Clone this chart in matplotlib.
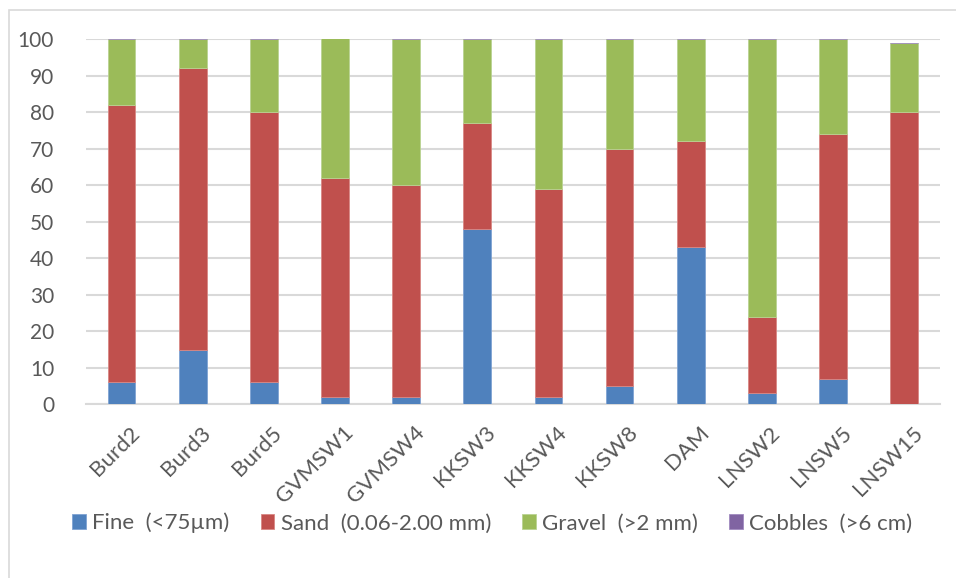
import numpy as np
import matplotlib
matplotlib.use("Agg")
import matplotlib.pyplot as plt
import matplotlib.transforms as mtransforms
from matplotlib.patches import Rectangle

plt.rcParams['font.family'] = ['Lato', 'DejaVu Sans']

# ==============================================================================
# DATA (percent by weight)
# ==============================================================================

sites   = ["Burd2", "Burd3", "Burd5", "GVMSW1", "GVMSW4", "KKSW3",
           "KKSW4", "KKSW8", "DAM", "LNSW2", "LNSW5", "LNSW15"]
fine    = [6, 15, 6, 2, 2, 48, 2, 5, 43, 3, 7, 0]
sand    = [76, 77, 74, 60, 58, 29, 57, 65, 29, 21, 67, 80]
gravel  = [18, 8, 20, 38.3, 40, 23, 41, 30, 28, 76, 26, 19]
cobbles = [0, 0, 0, 0, 0, 0, 0, 0, 0, 0, 0, 0]

series_labels = ["Fine  (<75µm)", "Sand  (0.06-2.00 mm)",
                 "Gravel  (>2 mm)", "Cobbles  (>6 cm)"]
colors = ["#4F81BD", "#C0504D", "#9BBB59", "#8064A2"]
edges  = ["#7FA3D3", "#D98784", "#BAD392", "#A08AC0"]

# ==============================================================================
# PLOT
# ==============================================================================

fig = plt.figure(figsize=(9.56, 5.78), dpi=100)
ax = fig.add_axes([0.090, 0.3005, 0.893, 0.632])

# outer chart frame (Excel style)
fig.patches.append(Rectangle((9 / 956, -0.05), 1.0, 1 - 10 / 578 + 0.05,
                             transform=fig.transFigure, fill=False,
                             edgecolor="#D9D9D9", linewidth=1.2))

x = np.arange(len(sites))
bottom = np.zeros(len(sites))
handles = []
for vals, lab, col, ec in zip([fine, sand, gravel, cobbles], series_labels, colors, edges):
    vals = np.array(vals, dtype=float)
    b = ax.bar(x, vals, width=0.39, bottom=bottom, color=col,
               edgecolor=ec, linewidth=0.6, label=lab, zorder=3)
    handles.append(b)
    bottom += vals

ax.set_xlim(-0.5, len(sites) - 0.5)
ax.set_ylim(0, 100)
ax.set_yticks(range(0, 101, 10))
ax.yaxis.grid(True, color="#D9D9D9", linewidth=1.5, zorder=0)
ax.set_axisbelow(True)

for side in ["left", "right", "top"]:
    ax.spines[side].set_visible(False)
ax.spines["bottom"].set_color("#D9D9D9")
ax.spines["bottom"].set_linewidth(1.5)
ax.tick_params(length=0, colors="#595959", labelsize=15)
ax.tick_params(axis="y", pad=23)

ax.set_xticks(x)
ax.set_xticklabels(sites, rotation=45, ha="right", rotation_mode="anchor",
                   fontsize=16, color="#595959")
ax.tick_params(axis="x", pad=13)
# shift labels a little right, like Excel's rotated category labels
offset = mtransforms.ScaledTranslation(8 / 100, 0, fig.dpi_scale_trans)
for lbl in ax.get_xticklabels():
    lbl.set_transform(lbl.get_transform() + offset)

fig.legend(handles=handles, labels=series_labels, loc="center",
           bbox_to_anchor=(0.515, 0.095), ncol=4, frameon=False,
           fontsize=16, handlelength=0.6, handleheight=0.6,
           handletextpad=0.3, columnspacing=1.4, labelcolor="#595959")

fig.savefig("out.png", dpi=100)
